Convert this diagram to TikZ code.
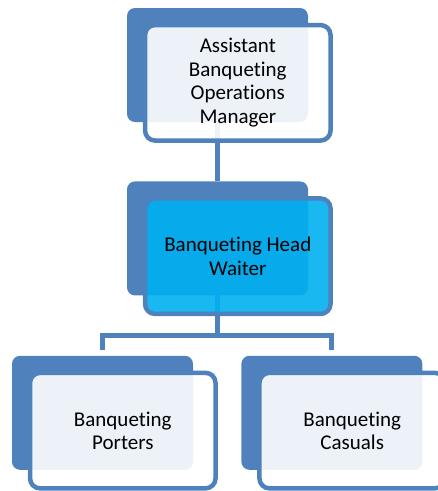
\documentclass[tikz,border=0pt]{standalone}
\usepackage{fontspec}
\setmainfont{Carlito}[Ligatures=CommonOff]
\usetikzlibrary{positioning}
\definecolor{chartblue}{RGB}{79,129,189}
\definecolor{chartcyan}{RGB}{0,176,240}
\tikzset{
  backbox/.style={fill=chartblue, rounded corners=8pt, inner sep=0pt,
    minimum width=181pt, minimum height=114pt},
  frontbox/.style={draw=chartblue, line width=4.5pt, fill=white,
    fill opacity=0.9, text opacity=1, rounded corners=10pt,
    minimum width=185.5pt, minimum height=115.5pt, align=center,
    font=\fontsize{21}{23.5}\selectfont,
    below right=15pt and 16pt of #1.north west},
  link/.style={draw=chartblue, line width=5pt},
}

\begin{document}
\begin{tikzpicture}
  \useasboundingbox (0,0) rectangle (438pt,-491pt);
  \clip (0,0) rectangle (438pt,-491pt);
  \node[backbox] (mgrback) at (217.5pt,-65pt) {};
  \node[backbox, below=59pt of mgrback] (headback) {};
  \node[backbox, below=60pt of headback, xshift=-115pt] (portersback) {};
  \node[backbox, right=48pt of portersback] (casualsback) {};
  \coordinate[above=6pt of portersback.north] (portersin);
  \coordinate[above=6pt of casualsback.north] (casualsin);
  \draw[link] (mgrback) -- (headback);
  \draw[link] (headback.center) -- ++(0,-97pt) coordinate (split);
  \draw[link] (portersin) |- (split) -| (casualsin);
  \node[frontbox=mgrback] (mgr) {Assistant\\Banqueting\\Operations\\Manager};
  \node[frontbox=headback, fill=chartcyan] (head) {Banqueting Head\\Waiter};
  \node[frontbox=portersback] (porters) {Banqueting\\Porters};
  \node[frontbox=casualsback] (casuals) {Banqueting\\Casuals};
\end{tikzpicture}
\end{document}
